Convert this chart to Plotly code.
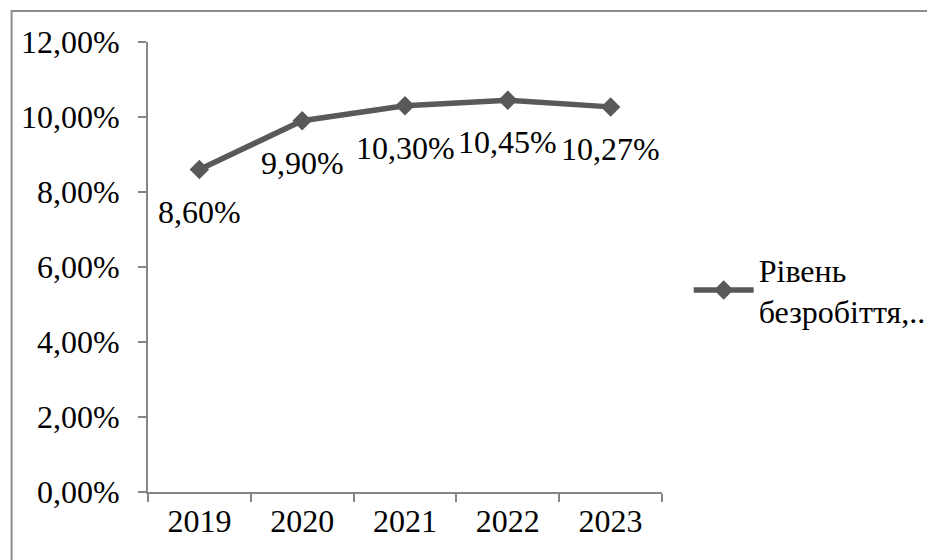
import plotly.graph_objects as go

years = ["2019", "2020", "2021", "2022", "2023"]
values = [0.0860, 0.0990, 0.1030, 0.1045, 0.1027]
label_texts = ["8,60%", "9,90%", "10,30%", "10,45%", "10,27%"]
series_name = "Рівень<br>безробіття,.."
y_ticks = [0, 0.02, 0.04, 0.06, 0.08, 0.10, 0.12]

FONT = "Times New Roman, Liberation Serif, serif"
FS = 32
LINE_COLOR = "#595959"
AXIS_COLOR = "#868686"

OFF = 8  # page body margin offset
W, H = 935, 560
ml, mr, mt, mb = 148 - OFF, 267 + OFF, 42 - OFF, 68 + OFF

fig = go.Figure()
fig.add_trace(go.Scatter(
    x=years, y=values, name=series_name, mode="lines+markers",
    line=dict(color=LINE_COLOR, width=5.5),
    marker=dict(symbol="diamond", size=15, color=LINE_COLOR),
    showlegend=True,
))

for i, (yv, t) in enumerate(zip(values, label_texts)):
    fig.add_annotation(x=i, y=yv, xref="x", yref="y", text=t, showarrow=False,
                       yshift=-42, font=dict(family=FONT, size=FS, color="black"))

pw = W - ml - mr
ph = H - mt - mb
fig.add_shape(type="rect", xref="paper", yref="paper",
              x0=(10 - OFF - ml) / pw, x1=(945 - ml) / pw,
              y0=(H - mb - 575) / ph, y1=(H - mb - (11 - OFF)) / ph,
              line=dict(color="#8c8c8c", width=2), fillcolor="rgba(0,0,0,0)")

fig.update_layout(
    width=W, height=H,
    margin=dict(l=ml, r=mr, t=mt, b=mb),
    paper_bgcolor="white", plot_bgcolor="white",
    separators=", ",
    font=dict(family=FONT, size=FS, color="black"),
    legend=dict(x=(695 - OFF - ml) / pw, xanchor="left", y=(H - mb - (242 - OFF)) / ph,
                yanchor="top",
                font=dict(family=FONT, size=FS, color="black"),
                bgcolor="rgba(0,0,0,0)", itemwidth=60),
    xaxis=dict(type="category", range=[-0.5, 4.5], showline=True, linecolor=AXIS_COLOR,
               linewidth=2, ticks="outside", ticklen=8, tickcolor=AXIS_COLOR, tickwidth=2,
               tickson="boundaries", showgrid=False, zeroline=False,
               tickfont=dict(family=FONT, size=FS, color="black")),
    yaxis=dict(range=[0, 0.12], tickvals=y_ticks, tickformat=".2%", showline=True,
               linecolor=AXIS_COLOR, linewidth=2, ticks="outside", ticklen=8,
               tickcolor=AXIS_COLOR, tickwidth=2, showgrid=False, zeroline=False,
               ticklabelstandoff=12,
               tickfont=dict(family=FONT, size=FS, color="black")),
)

fig.write_html("out.html")
